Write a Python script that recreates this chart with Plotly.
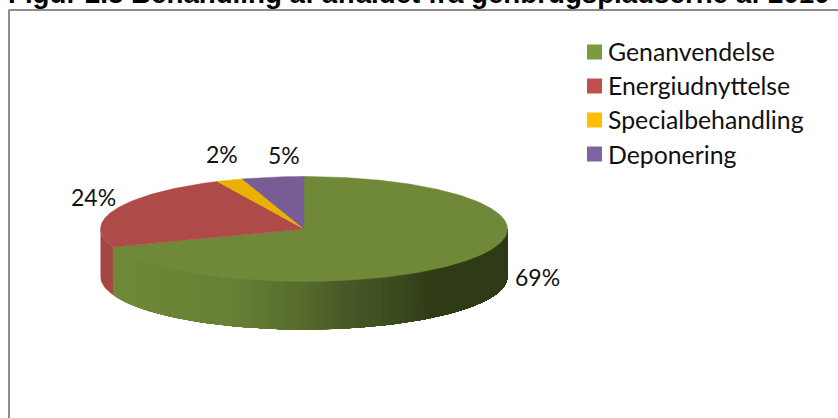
import math
import plotly.graph_objects as go

title = "Figur 2.8 Behandling af affaldet fra genbrugspladserne af 2010"
categories = ["Genanvendelse", "Energiudnyttelse", "Specialbehandling", "Deponering"]
values = [69.4, 23.6, 2.1, 4.9]
top_colors = ["#6f8938", "#ae4a47", "#ecb100", "#785c95"]
legend_colors = ["#7b9a3d", "#c0504d", "#ffc000", "#8064a2"]
red_side = "#a44644"

W, H = 838, 418
CX, CY, RX = 304, 229, 203.5
TILT = 52.5 / 203.5
DEPTH = 48 / 203.5

# side shading: position across the pie (-1..1) -> colour
shade_pos = [-1.0, -0.35, -0.02, 0.18, 0.47, 0.62, 1.0]
shade_rgb = [(0x70, 0x8a, 0x38), (0x67, 0x80, 0x34), (0x57, 0x6c, 0x2d),
             (0x4a, 0x5a, 0x27), (0x3b, 0x4a, 0x1e), (0x2f, 0x3a, 0x16), (0x2f, 0x3a, 0x16)]


def shade(u):
    for i in range(len(shade_pos) - 1):
        if u <= shade_pos[i + 1]:
            t = (u - shade_pos[i]) / (shade_pos[i + 1] - shade_pos[i])
            c = [round(a + (b - a) * t) for a, b in zip(shade_rgb[i], shade_rgb[i + 1])]
            return "rgb(%d,%d,%d)" % tuple(c)
    return "rgb(47,58,22)"


def pt(a):
    return math.sin(a), TILT * math.cos(a)


fig = go.Figure()
total = sum(values)
bounds = [0.0]
for v in values:
    bounds.append(bounds[-1] + 2 * math.pi * v / total)


def side_strip(a0, a1, color):
    n = max(2, int(abs(a1 - a0) * 40))
    arc = [pt(a0 + (a1 - a0) * i / n) for i in range(n + 1)]
    xs = [p[0] for p in arc] + [p[0] for p in reversed(arc)] + [arc[0][0]]
    ys = [p[1] for p in arc] + [p[1] - DEPTH for p in reversed(arc)] + [arc[0][1]]
    fig.add_trace(go.Scatter(x=xs, y=ys, mode="lines", fill="toself", fillcolor=color,
                             line=dict(width=0), showlegend=False, hoverinfo="skip"))


# front wall: red part first
side_strip(bounds[1], 3 * math.pi / 2, red_side)

# front wall: green part, shaded in narrow strips; each runs on to the wall's end
# and the next one paints over it, so no seams show between them
start, end = bounds[1], math.pi / 2
steps = 90
for k in range(steps):
    a0 = start + (end - start) * k / steps
    a1 = start + (end - start) * (k + 1) / steps
    side_strip(a0, end, shade(math.sin((a0 + a1) / 2)))

# top faces
for i, name in enumerate(categories):
    a0, a1 = bounds[i], bounds[i + 1]
    n = max(6, int((a1 - a0) * 60))
    arc = [pt(a0 + (a1 - a0) * j / n) for j in range(n + 1)]
    xs = [0] + [p[0] for p in arc] + [0]
    ys = [0] + [p[1] for p in arc] + [0]
    fig.add_trace(go.Scatter(x=xs, y=ys, mode="lines", fill="toself", fillcolor=top_colors[i],
                             line=dict(width=0.5, color=top_colors[i]), name=name,
                             showlegend=False, hoverinfo="name"))

annotations = []
font = "Lato, 'Open Sans', sans-serif"

# data labels
label_pos = [(537, 277), (93, 197), (222, 154), (284, 155)]
for v, (px, py) in zip(values, label_pos):
    annotations.append(dict(x=px / W, y=1 - py / H, xref="paper", yref="paper", showarrow=False,
                            text=f"{round(v)}%", font=dict(family=font, size=23, color="#111111"),
                            xanchor="center", yanchor="middle"))

# legend
legend_y = [52, 86, 120, 154]
for name, color, py in zip(categories, legend_colors, legend_y):
    annotations.append(dict(x=608 / W, y=1 - py / H, xref="paper", yref="paper", showarrow=False,
                            text=name, font=dict(family=font, size=24.8, color="#111111"),
                            xanchor="left", yanchor="middle", xshift=-2))
shapes = [dict(type="rect", xref="paper", yref="paper", x0=587 / W, x1=602 / W,
               y0=1 - (py + 7.5) / H, y1=1 - (py - 7.5) / H, fillcolor=c, line=dict(width=0))
          for c, py in zip(legend_colors, legend_y)]

# title, cut by the top of the picture as in the original
annotations.append(dict(x=8 / W, y=1 - 11 / H, xref="paper", yref="paper", showarrow=False,
                        text=f"<b>{title}</b>", xanchor="left", yanchor="bottom", xshift=-2,
                        font=dict(family="Liberation Sans, Arial, sans-serif", size=27.7, color="#000000")))

# chart frame
frame = "#8c8c8c"
shapes += [
    dict(type="line", xref="paper", yref="paper", x0=8.5 / W, x1=1, y0=1 - 10 / H, y1=1 - 10 / H,
         line=dict(color=frame, width=2)),
    dict(type="line", xref="paper", yref="paper", x0=9 / W, x1=9 / W, y0=0, y1=1 - 10 / H,
         line=dict(color=frame, width=2)),
]

fig.update_layout(
    width=W, height=H, margin=dict(l=0, r=0, t=0, b=0),
    paper_bgcolor="white", plot_bgcolor="white", showlegend=False,
    xaxis=dict(visible=False, range=[-CX / RX, (W - CX) / RX], fixedrange=True),
    yaxis=dict(visible=False, range=[(CY - H) / RX, CY / RX], fixedrange=True),
    annotations=annotations, shapes=shapes,
)
fig.write_html("out.html", config=dict(displayModeBar=False),
               post_script="document.body.style.margin='0';document.body.style.overflow='hidden';")
